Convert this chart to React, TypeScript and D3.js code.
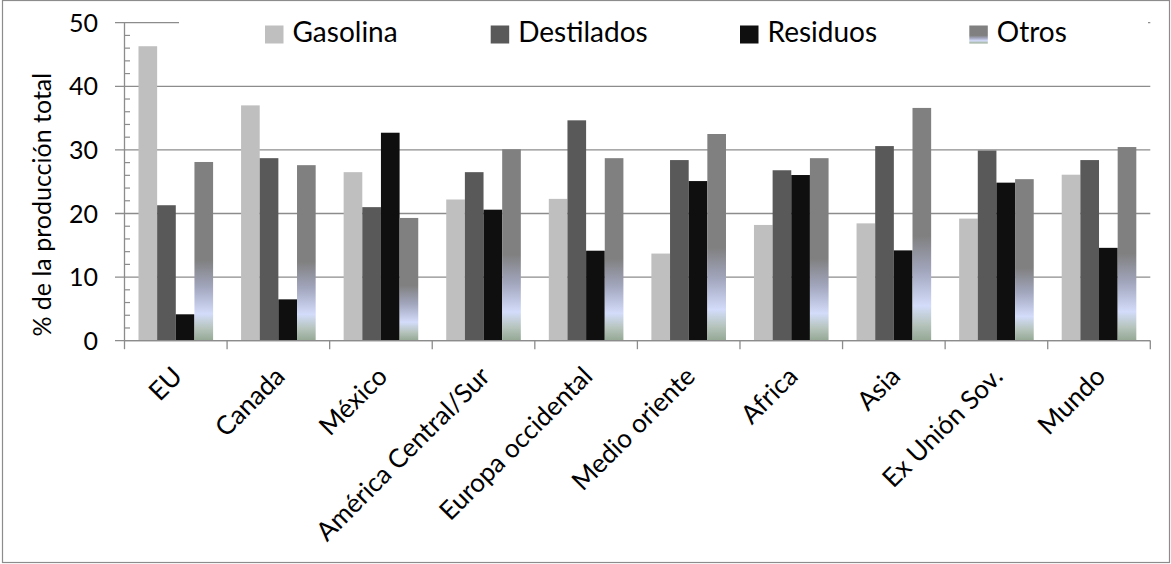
import React from "react";
import * as d3 from "d3";

// Regions and product shares (% of total refinery output)
const categories = [
  "EU",
  "Canada",
  "México",
  "América Central/Sur",
  "Europa occidental",
  "Medio oriente",
  "Africa",
  "Asia",
  "Ex Unión Sov.",
  "Mundo",
];
const seriesNames = ["Gasolina", "Destilados", "Residuos", "Otros"];
const gasolina = [46.3, 37.0, 26.5, 22.2, 22.3, 13.7, 18.2, 18.45, 19.2, 26.1];
const destilados = [21.3, 28.7, 21.0, 26.5, 34.65, 28.4, 26.8, 30.6, 29.9, 28.4];
const residuos = [4.15, 6.5, 32.7, 20.6, 14.15, 25.1, 26.05, 14.2, 24.85, 14.6];
const otros = [28.1, 27.6, 19.3, 30.1, 28.7, 32.5, 28.7, 36.6, 25.4, 30.45];
const yTicks = [0, 10, 20, 30, 40, 50];
const yTitle = "% de la producción total";

const W = 1171;
const H = 564;
const FONT = "Lato, 'Open Sans', sans-serif";

const plot = { left: 124.5, right: 1150.3, top: 22.7, bottom: 340.7 };

export default function App() {
  const values = [gasolina, destilados, residuos, otros];
  const fills = ["#bfbfbf", "#595959", "#0f0f0f", "url(#otrosGrad)"];

  const x0 = d3.scaleBand<string>().domain(categories).range([plot.left, plot.right]).padding(0);
  const bw = x0.bandwidth();
  const gap = (bw * 0.75) / 5.5; // Excel-style 150% gap width
  const x1 = d3.scaleBand<string>().domain(seriesNames).range([gap, bw - gap]).padding(0);
  const y = d3.scaleLinear().domain([0, 50]).range([plot.bottom, plot.top]);

  const minorTicks = d3.range(0, 50.001, 2).filter((v) => v % 10 !== 0);
  const legendX = [265, 490.7, 740, 969.3];

  return (
    <svg
      width={W}
      height={H}
      style={{ position: "absolute", left: 0, top: 0, background: "#fff" }}
      fontFamily={FONT}
    >
      <defs>
        <linearGradient id="otrosGrad" x1="0" y1="0" x2="0" y2="1">
          <stop offset="0" stopColor="#808080" />
          <stop offset="0.55" stopColor="#808080" />
          <stop offset="0.7" stopColor="#a2a6bd" />
          <stop offset="0.85" stopColor="#d3dcfa" />
          <stop offset="0.93" stopColor="#b6c4bd" />
          <stop offset="1" stopColor="#94a894" />
        </linearGradient>
      </defs>

      {/* chart border */}
      <rect x={2.5} y={0.5} width={1167} height={562} fill="#fff" stroke="#8c8c8c" strokeWidth={1.2} />

      {/* horizontal gridlines with major ticks */}
      {yTicks.map((t) => (
        <line
          key={"g" + t}
          x1={115}
          x2={plot.right}
          y1={y(t)}
          y2={y(t)}
          stroke="#8c8c8c"
          strokeWidth={1.3}
        />
      ))}

      {/* bars */}
      {categories.map((c, i) => (
        <g key={c} transform={`translate(${x0(c)},0)`}>
          {seriesNames.map((s, k) => (
            <rect
              key={s}
              x={x1(s)}
              y={y(values[k][i])}
              width={x1.bandwidth()}
              height={y(0) - y(values[k][i])}
              fill={fills[k]}
            />
          ))}
        </g>
      ))}

      {/* y axis */}
      <line x1={plot.left} x2={plot.left} y1={plot.top} y2={plot.bottom} stroke="#8c8c8c" strokeWidth={1.3} />
      {minorTicks.map((t) => (
        <line key={"m" + t} x1={plot.left} x2={plot.left + 5.5} y1={y(t)} y2={y(t)} stroke="#8c8c8c" strokeWidth={1.2} />
      ))}
      {yTicks.map((t) => (
        <text
          key={"t" + t}
          x={98}
          y={y(t)}
          dy="0.36em"
          textAnchor="end"
          fontSize={25}
          fill="#000"
        >
          {t}
        </text>
      ))}
      <text
        transform={`translate(51,${(plot.top + plot.bottom) / 2 + 23}) rotate(-90)`}
        textAnchor="middle"
        fontSize={25}
        fill="#000"
      >
        {yTitle}
      </text>

      {/* x axis */}
      <line x1={plot.left} x2={plot.right} y1={plot.bottom} y2={plot.bottom} stroke="#8c8c8c" strokeWidth={1.3} />
      {d3.range(categories.length + 1).map((i) => (
        <line
          key={"xt" + i}
          x1={plot.left + i * bw}
          x2={plot.left + i * bw}
          y1={plot.bottom}
          y2={plot.bottom + 8.5}
          stroke="#8c8c8c"
          strokeWidth={1.3}
        />
      ))}
      {categories.map((c) => (
        <text
          key={"xl" + c}
          transform={`translate(${(x0(c) as number) + bw / 2 + 8},378) rotate(-45)`}
          textAnchor="end"
          fontSize={26}
          fill="#000"
        >
          {c}
        </text>
      ))}

      {/* legend */}
      <rect x={179} y={8} width={969} height={44} fill="#fff" />
      {seriesNames.map((s, k) => (
        <g key={"lg" + s} transform={`translate(${legendX[k]},0)`}>
          <rect x={0} y={25.5} width={18.5} height={18} fill={fills[k]} />
          <text x={27.5} y={42.3} fontSize={28} fill="#000">
            {s}
          </text>
        </g>
      ))}
    </svg>
  );
}
